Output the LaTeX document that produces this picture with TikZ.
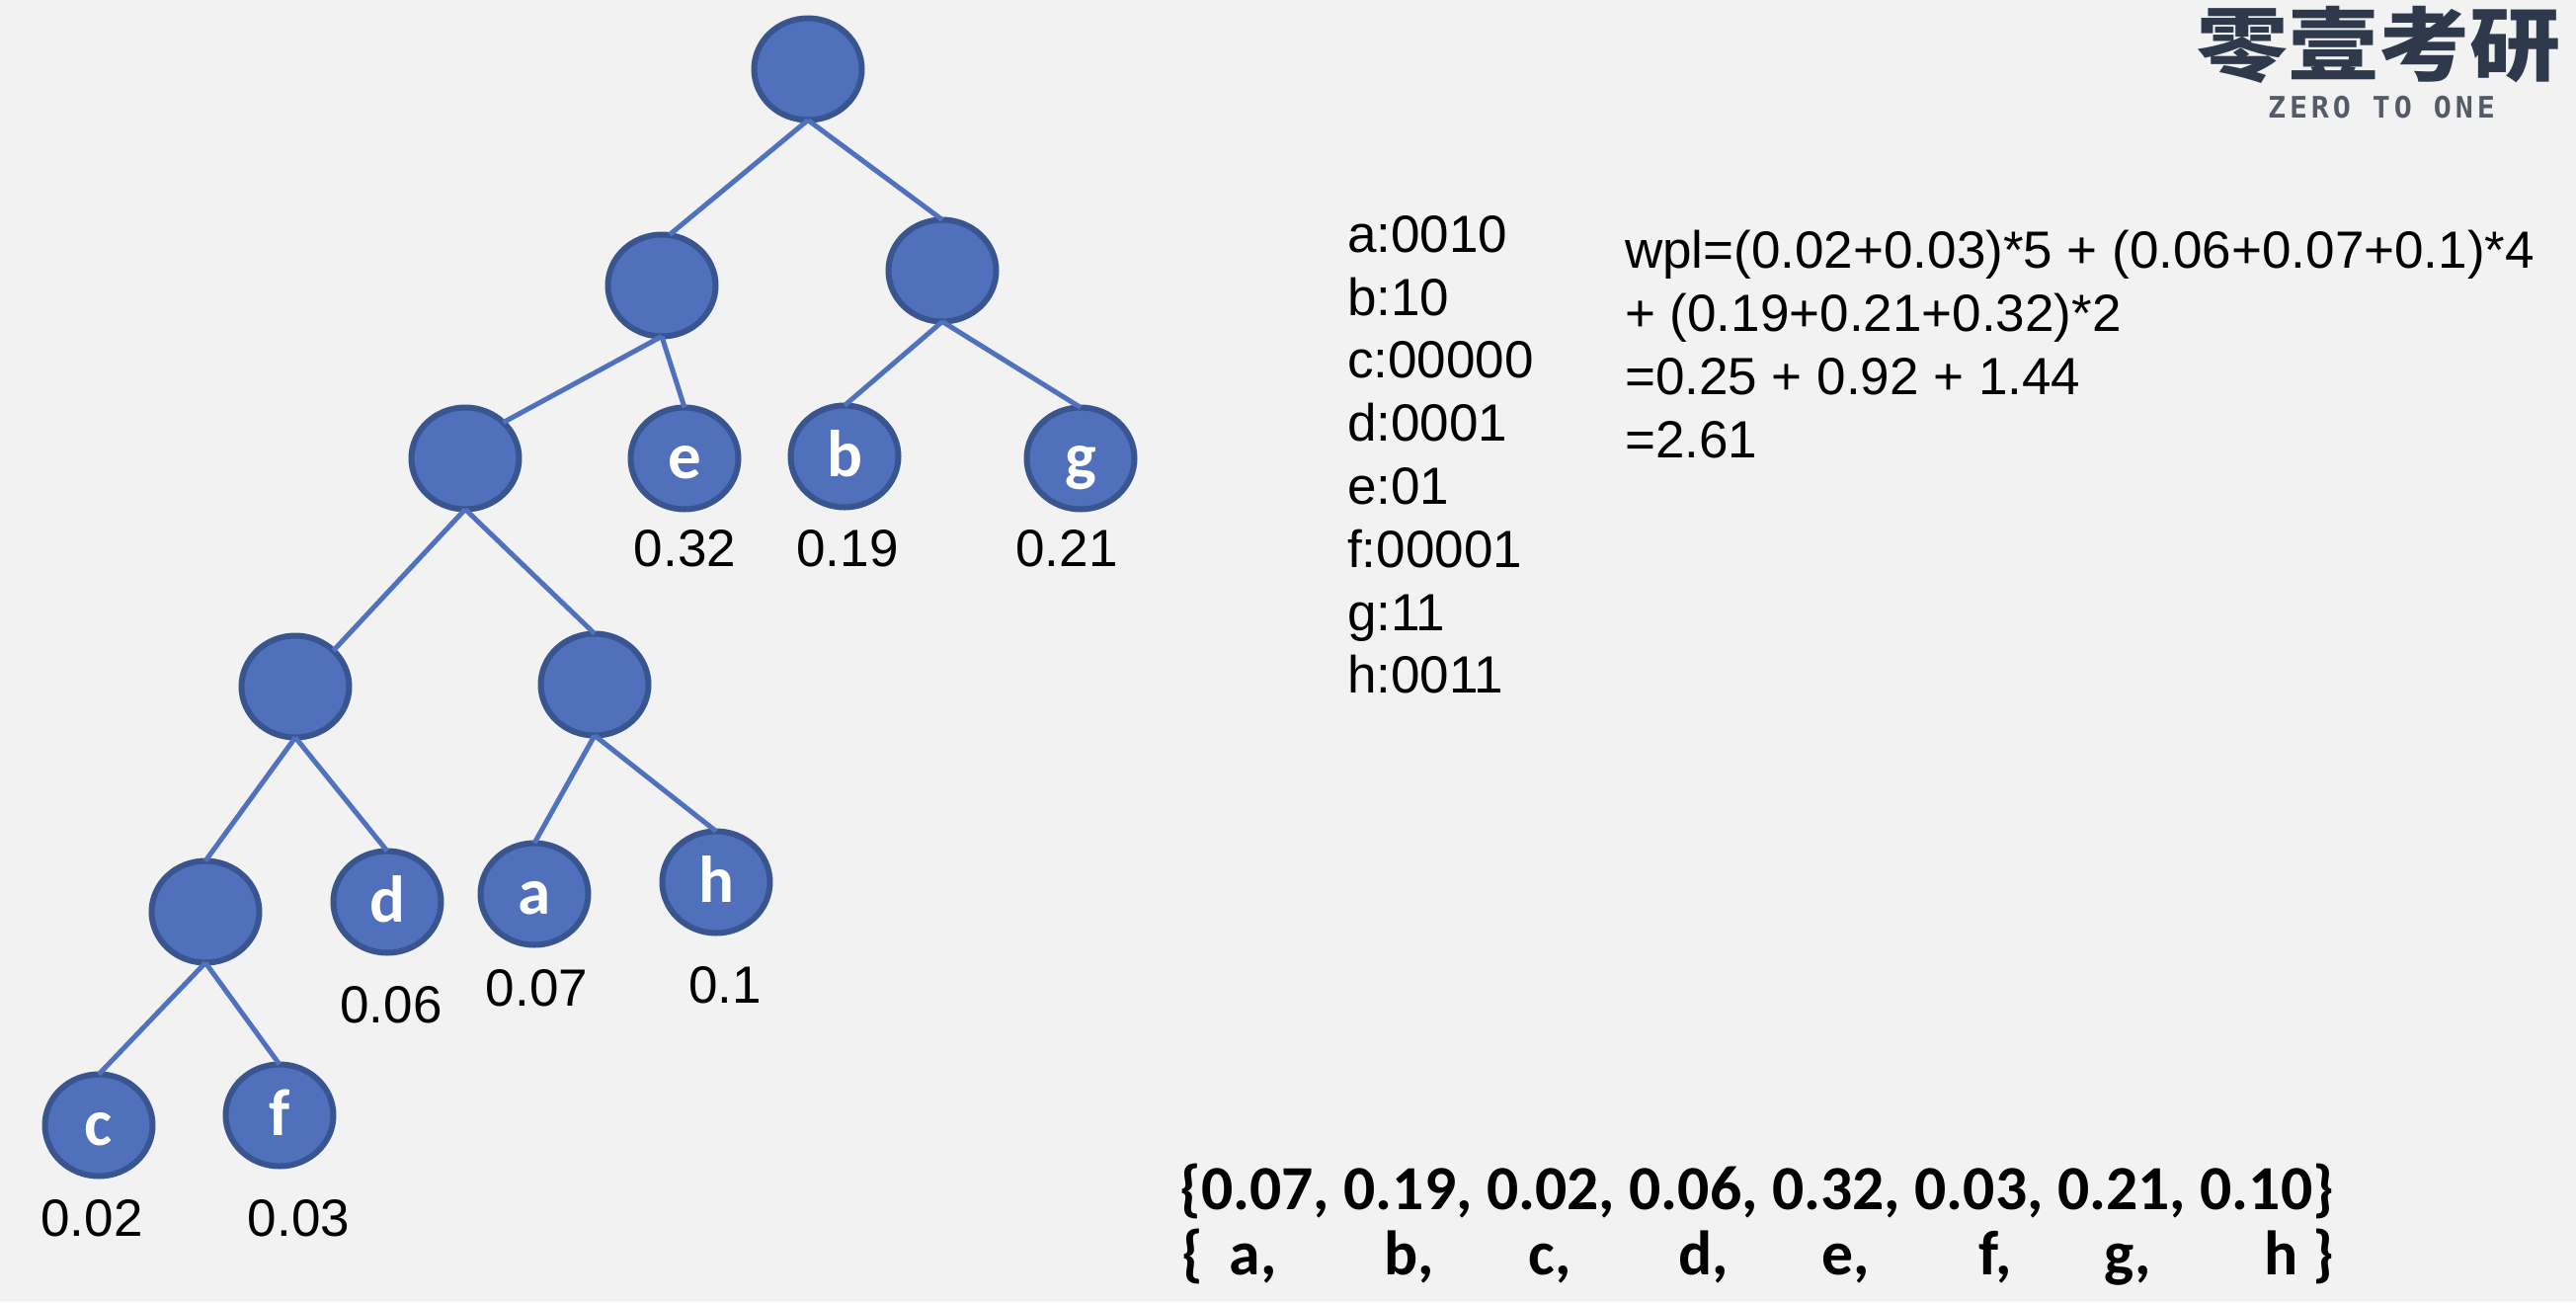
\documentclass[tikz,border=0pt]{standalone}
\usepackage{fontspec}
\usepackage{graphicx}
\setmainfont{Liberation Sans}
\newfontfamily\carlito{Carlito}
\newfontfamily\cjk{Noto Sans CJK SC}
\newfontfamily\logomono[LetterSpace=13]{DejaVu Sans Mono}
\definecolor{bgc}{HTML}{F2F2F2}
\definecolor{nodefill}{HTML}{5070BC}
\definecolor{nodeline}{HTML}{385590}
\definecolor{edgec}{HTML}{4F71BE}
\definecolor{logoc}{HTML}{2E3A4B}
\definecolor{logogray}{HTML}{555B66}
\tikzset{
  treenode/.style={ellipse,draw=nodeline,fill=nodefill,line width=6pt,inner sep=0pt,outer sep=0pt,
    minimum width=109pt,minimum height=103pt,text=white,text height=40pt,text depth=0pt,
    font=\carlito\bfseries\fontsize{67}{67}\selectfont},
  edge/.style={draw=edgec,line width=5pt},
  weight/.style={anchor=base,inner sep=0pt,font=\fontsize{53}{64}\selectfont},
  listtext/.style={anchor=north west,inner sep=0pt,align=left,font=\fontsize{53}{63.8}\selectfont},
  boldrow/.style={anchor=base west,inner sep=0pt,font=\carlito\bfseries\fontsize{63.6}{64}\selectfont},
}
\usetikzlibrary{shapes.geometric}
\newcommand{\at}[2]{\rlap{\hspace*{#1pt}#2}}
\begin{document}
\begin{tikzpicture}[x=1pt,y=-1pt]
\useasboundingbox (0,0) rectangle (2608,1318);
\fill[bgc] (0,0) rectangle (2608,1318);
% nodes
\node[treenode] (root) at (818,70) {};
\node[treenode] (l1) at (670,289) {};
\node[treenode] (r1) at (954,274) {};
\node[treenode] (n2) at (471,464) {};
\node[treenode] (e) at (693,464) {e};
\node[treenode] (b) at (855,462) {b};
\node[treenode] (g) at (1094,464) {g};
\node[treenode] (n3a) at (299,695) {};
\node[treenode] (n3b) at (602,693) {};
\node[treenode] (n4) at (208,923) {};
\node[treenode] (d) at (392,913) {d};
\node[treenode] (a) at (541,905) {a};
\node[treenode] (h) at (725,893) {h};
\node[treenode] (c) at (100,1139) {c};
\node[treenode] (f) at (283,1129) {f};
% edges
\draw[edge] (root.south) -- ([xshift=8pt]l1.north);
\draw[edge] (root.south) -- (r1.north);
\draw[edge] (l1.south) -- (n2.north east);
\draw[edge] (l1.south) -- (e.north);
\draw[edge] (r1.south) -- (b.north);
\draw[edge] (r1.south) -- (g.north);
\draw[edge] (n2.south) -- (n3a.north east);
\draw[edge] (n2.south) -- (n3b.north);
\draw[edge] (n3a.south) -- (n4.north);
\draw[edge] (n3a.south) -- (d.north);
\draw[edge] (n3b.south) -- (a.north);
\draw[edge] (n3b.south) -- (h.north);
\draw[edge] (n4.south) -- (c.north);
\draw[edge] (n4.south) -- (f.north);
% weights
\node[weight] (w1) at (693.5,573) {0.32};
\node[weight] (w2) at (858,573) {0.19};
\node[weight] (w3) at (1080,573) {0.21};
\node[weight] (w4) at (396,1035) {0.06};
\node[weight] (w5) at (543.5,1018) {0.07};
\node[weight] (w6) at (734,1015) {0.1};
\node[weight] (w7) at (93,1251) {0.02};
\node[weight] (w8) at (302.5,1251) {0.03};
% code list
\node[listtext] (codes) at (1364,218) {a:0010\\b:10\\c:00000\\d:0001\\e:01\\f:00001\\g:11\\h:0011};
% wpl
\node[listtext] (wpl) at (1645,233) {wpl=(0.02+0.03)*5 + (0.06+0.07+0.1)*4\\+ (0.19+0.21+0.32)*2\\=0.25 + 0.92 + 1.44\\=2.61};
% bottom rows
\node[boldrow] (probs) at (1194,1224) {\{0.07, 0.19, 0.02, 0.06, 0.32, 0.03, 0.21, 0.10\}};
\node[boldrow] (names) at (1194,1290) {\at{2}{\{}\at{50}{a,}\at{207}{b,}\at{353}{c,}\at{505}{d,}\at{650}{e,}\at{809}{f,}\at{936}{g,}\at{1098}{h}\at{1147}{\}}};
% logo
\node[inner sep=0pt,text=logoc,font=\cjk\bfseries\fontsize{92}{92}\selectfont] (logo) at (2408,45) {\scalebox{1}[0.88]{零壹考研}};
\node[inner sep=0pt,text=logogray,font=\logomono\bfseries\fontsize{30}{30}\selectfont] (logosub) at (2411,109) {ZERO TO ONE};
\end{tikzpicture}
\end{document}
